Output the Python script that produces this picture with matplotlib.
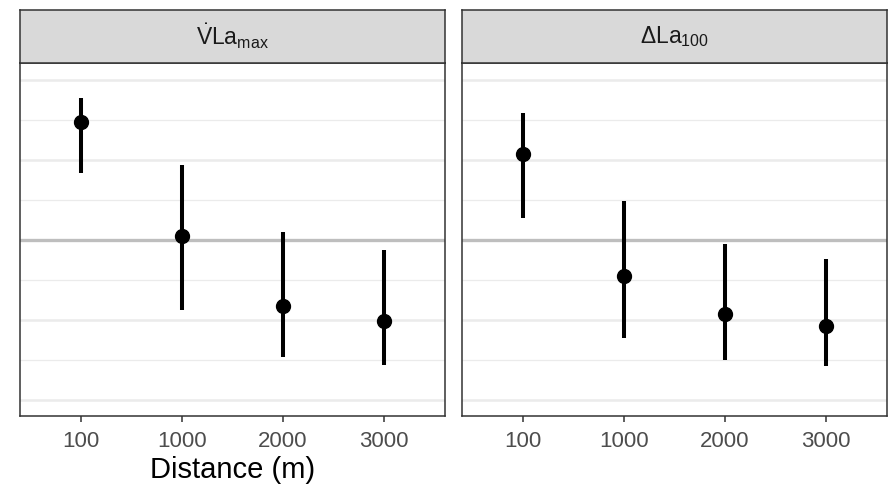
import numpy as np
import matplotlib.pyplot as plt

plt.rcParams['font.family'] = ['Liberation Sans', 'DejaVu Sans']
plt.rcParams['mathtext.fontset'] = 'custom'
plt.rcParams['mathtext.rm'] = 'Liberation Sans'
plt.rcParams['mathtext.it'] = 'Liberation Sans:italic'

# data
distances = ['100', '1000', '2000', '3000']
panel_titles = [r'$\dot{\mathrm{V}}\mathrm{La}_{\mathrm{max}}$', r'$\Delta\mathrm{La}_{100}$']

vla_mean = [1.47, 0.05, -0.83, -1.01]
vla_low = [0.84, -0.87, -1.46, -1.56]
vla_high = [1.78, 0.94, 0.10, -0.13]

dla_mean = [1.08, -0.45, -0.93, -1.07]
dla_low = [0.27, -1.22, -1.50, -1.58]
dla_high = [1.59, 0.49, -0.05, -0.24]

series = [(vla_mean, vla_low, vla_high), (dla_mean, dla_low, dla_high)]

W, H = 888, 487
fig = plt.figure(figsize=(W / 100, H / 100), dpi=100)

# panel boxes in pixels (left, right)
panels = [(20, 445), (462, 887)]
top_px, bot_px, strip_top = 63, 416, 10

x = np.arange(1, len(distances) + 1)
for i, ((l, r), (m, lo, hi)) in enumerate(zip(panels, series)):
    ax = fig.add_axes([l / W, 1 - bot_px / H, (r - l) / W, (bot_px - top_px) / H])
    ax.set_xlim(0.4, 4.6)
    ax.set_ylim(-2.2, 2.2125)

    # grid
    for y in [-2, -1, 0, 1, 2]:
        ax.axhline(y, color='#EBEBEB', lw=1.8, zorder=0)
    for y in [-1.5, -0.5, 0.5, 1.5]:
        ax.axhline(y, color='#EBEBEB', lw=0.9, zorder=0)
    ax.axhline(0, color='#BEBEBE', lw=2.4, zorder=1)

    ax.vlines(x, lo, hi, color='black', lw=2.9, zorder=3)
    ax.plot(x, m, 'o', color='black', ms=10, zorder=4)

    ax.set_xticks(x)
    ax.set_xticklabels(distances, fontsize=16, color='#4D4D4D')
    ax.tick_params(axis='x', length=4.5, width=1.1, color='#333333', pad=6)
    ax.set_yticks([])
    for s in ax.spines.values():
        s.set_color('#333333')
        s.set_linewidth(1.1)

    # facet strip
    sax = fig.add_axes([l / W, 1 - top_px / H, (r - l) / W, (top_px - strip_top) / H])
    sax.set_xticks([])
    sax.set_yticks([])
    sax.set_facecolor('#D9D9D9')
    for s in sax.spines.values():
        s.set_color('#333333')
        s.set_linewidth(1.1)
    sax.text(0.5, 0.5, panel_titles[i], ha='center', va='center',
             fontsize=16.5, color='#1A1A1A', transform=sax.transAxes)

    if i == 0:
        ax.set_xlabel('Distance (m)', fontsize=21, color='black', labelpad=3)

fig.savefig('out.png', dpi=100)
